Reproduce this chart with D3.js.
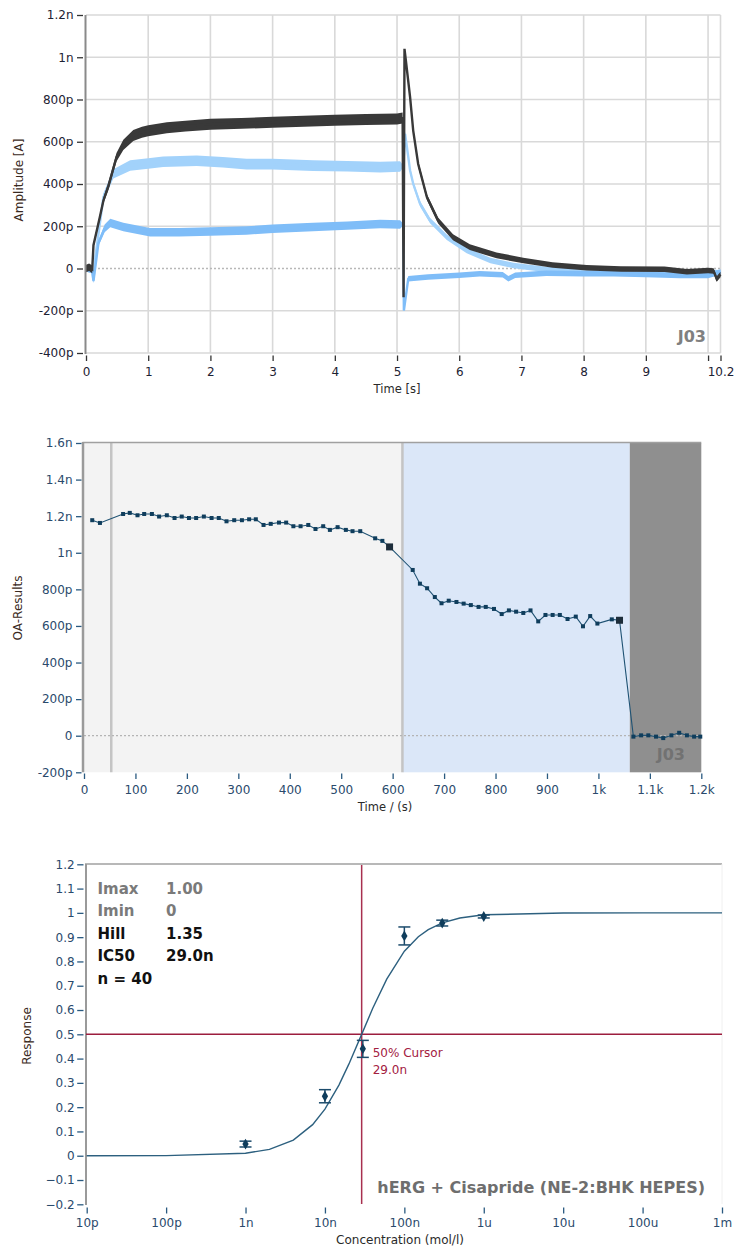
<!DOCTYPE html>
<html>
<head>
<meta charset="utf-8">
<script src="https://cdn.jsdelivr.net/npm/d3@7"></script>
<style>
body { margin: 0; background: #fff; }
text { font-family: "DejaVu Sans", sans-serif; }
</style>
</head>
<body>
<script>
//// ============================ DATA ============================ ////

// panel 1 : current traces (time in s, amplitude in pA, noise half-width in pA)
var blackT = [0, 0.05, 0.1, 0.12, 0.22, 0.28, 0.36, 0.49, 0.6, 0.76, 0.9, 1.0, 1.3, 1.6, 2.0, 2.5, 3.0, 3.5, 4.0, 4.5, 5.0, 5.09, 5.105, 5.12, 5.14, 5.21, 5.26, 5.34, 5.48, 5.66, 5.9, 6.17, 6.6, 7.03, 7.5, 8.05, 8.6, 9.3, 9.66, 10.0, 10.09, 10.14, 10.2];
var blackV = [0, 6, -4, 110, 240, 322, 390, 527, 585, 630, 645, 652, 666, 674, 683, 687, 692, 697, 702, 705, 708, 712, -136, 1040, 990, 811, 653, 495, 338, 227, 148, 101, 62, 38, 16, 3, -2, -4, -15, -10, -12, -50, -28];
var blackW = [18, 18, 18, 12, 12, 14, 18, 20, 24, 26, 26, 26, 26, 26, 26, 26, 26, 26, 26, 26, 26, 26, 2, 2, 14, 14, 14, 14, 14, 14, 14, 14, 14, 13, 13, 13, 13, 13, 13, 13, 13, 13, 13];

var blueHiT = [0, 0.1, 0.12, 0.15, 0.28, 0.44, 0.71, 1.0, 1.24, 1.78, 2.2, 2.58, 3.0, 3.65, 4.2, 4.73, 5.05, 5.10, 5.13, 5.21, 5.26, 5.37, 5.53, 5.8, 6.12, 6.5, 6.87, 7.4, 8.0, 9.0, 10.0, 10.2];
var blueHiV = [0, -10, -55, 53, 338, 448, 488, 497, 505, 510, 503, 494, 494, 487, 484, 480, 483, 483, 637, 464, 401, 306, 227, 148, 85, 38, 14, -5, -12, -15, -18, -20];
var blueHiW = [14, 14, 10, 12, 18, 22, 25, 25, 25, 25, 25, 25, 25, 25, 25, 25, 25, 4, 10, 13, 13, 13, 13, 13, 13, 13, 13, 13, 13, 13, 13, 13];

var blueLoT = [0, 0.1, 0.12, 0.2, 0.3, 0.39, 0.6, 1.03, 1.5, 2.0, 2.58, 3.0, 3.65, 4.2, 4.73, 5.05, 5.10, 5.11, 5.18, 5.5, 6.0, 6.33, 6.7, 6.79, 6.9, 7.4, 8.0, 8.48, 9.0, 9.55, 10.0, 10.2];
var blueLoV = [0, -10, -60, 120, 190, 215, 196, 172, 172, 175, 180, 188, 196, 203, 211, 208, 208, -199, -49, -40, -32, -25, -30, -49, -32, -22, -25, -25, -28, -33, -33, -17];
var blueLoW = [14, 14, 10, 14, 18, 20, 20, 20, 20, 20, 20, 20, 20, 20, 20, 20, 4, 4, 13, 13, 13, 13, 13, 13, 13, 13, 13, 13, 13, 13, 13, 13];

var ampTicks = [-400, -200, 0, 200, 400, 600, 800, 1000, 1200];
var ampTickLabels = ["-400p", "-200p", "0", "200p", "400p", "600p", "800p", "1n", "1.2n"];
var timeTicks = [0, 1, 2, 3, 4, 5, 6, 7, 8, 9, 10, 10.2];
var timeTickLabels = ["0", "1", "2", "3", "4", "5", "6", "7", "8", "9", "", "10.2"];

// panel 2 : OA results over the experiment (time in s, value in pA)
var oaTime = [16, 31, 76, 89, 104, 117, 132, 146, 161, 176, 190, 204, 218, 233, 248, 262, 277, 292, 307, 321, 334, 349, 363, 379, 393, 407, 421, 436, 450, 465, 478, 493, 509, 522, 537, 566, 580, 594, 639, 653, 667, 682, 695, 709, 724, 738, 752, 767, 781, 797, 812, 826, 840, 854, 868, 883, 897, 911, 925, 940, 956, 970, 984, 998, 1026, 1041, 1068, 1083, 1097, 1112, 1126, 1142, 1157, 1172, 1186, 1198];
var oaValue = [1178, 1163, 1212, 1218, 1205, 1212, 1212, 1198, 1205, 1190, 1198, 1190, 1190, 1198, 1190, 1190, 1172, 1178, 1178, 1183, 1183, 1152, 1158, 1165, 1165, 1145, 1145, 1152, 1130, 1145, 1125, 1140, 1125, 1118, 1118, 1079, 1065, 1032, 906, 831, 806, 758, 724, 738, 731, 722, 714, 704, 704, 693, 665, 685, 678, 671, 685, 625, 660, 660, 660, 638, 651, 598, 654, 613, 636, 631, -5, 2, 2, -5, -13, 2, 16, 2, -5, -5];
var oaSelected = [594, 1041];
var phaseStart = [0, 619, 1061];
var phaseEnd = [619, 1061, 1200];
var phaseMarks = [53, 619];

var oaTicks = [-200, 0, 200, 400, 600, 800, 1000, 1200, 1400, 1600];
var oaTickLabels = ["-200p", "0", "200p", "400p", "600p", "800p", "1n", "1.2n", "1.4n", "1.6n"];
var expTicks = [0, 100, 200, 300, 400, 500, 600, 700, 800, 900, 1000, 1100, 1200];
var expTickLabels = ["0", "100", "200", "300", "400", "500", "600", "700", "800", "900", "1k", "1.1k", "1.2k"];

// panel 3 : concentration response (mol/l)
var doseConc = [1e-9, 1e-8, 3e-8, 1e-7, 3e-7, 1e-6];
var doseResp = [0.048, 0.245, 0.44, 0.905, 0.958, 0.985];
var doseErr = [0.012, 0.027, 0.035, 0.037, 0.012, 0.006];

var fitConc = [1e-11, 1e-10, 1e-9, 2e-9, 4e-9, 7e-9, 1e-8, 1.5e-8, 2e-8, 3e-8, 4e-8, 6e-8, 1e-7, 1.5e-7, 2e-7, 3e-7, 5e-7, 1e-6, 1e-5, 1e-4, 1e-3];
var fitResp = [0, 0.0005, 0.0105, 0.026, 0.0645, 0.128, 0.192, 0.291, 0.377, 0.511, 0.607, 0.727, 0.842, 0.902, 0.931, 0.959, 0.979, 0.992, 0.9996, 1, 1];

var ic50 = 29.0e-9;
var statNames = ["Imax", "Imin", "Hill", "IC50", "n = 40"];
var statValues = ["1.00", "0", "1.35", "29.0n", ""];

var respTicks = [-0.2, -0.1, 0, 0.1, 0.2, 0.3, 0.4, 0.5, 0.6, 0.7, 0.8, 0.9, 1, 1.1, 1.2];
var concTicks = [1e-11, 1e-10, 1e-9, 1e-8, 1e-7, 1e-6, 1e-5, 1e-4, 1e-3];
var concTickLabels = ["10p", "100p", "1n", "10n", "100n", "1u", "10u", "100u", "1m"];

//// ============================ SETUP ============================ ////

var svg = d3.select("body").append("svg")
    .attr("width", 734)
    .attr("height", 1249);

function styleAxis(g, color, tickColor) {
    g.select(".domain").remove();
    g.selectAll(".tick line").attr("stroke", tickColor).attr("stroke-width", 1.3);
    g.selectAll(".tick text")
        .attr("fill", color)
        .style("font-size", "12px")
        .style("font-family", "'DejaVu Sans', sans-serif");
}

//// ============================ PANEL 1 ============================ ////

var x1 = d3.scaleLinear().domain([0, 10.2]).range([86, 720.5]);
var y1 = d3.scaleLinear().domain([-400, 1200]).range([353, 15]);
var p1 = svg.append("g");

p1.selectAll(".gridx")
    .data(timeTicks.slice(1))
    .enter().append("line")
    .attr("x1", function(d) { return x1(d); })
    .attr("x2", function(d) { return x1(d); })
    .attr("y1", y1(1200))
    .attr("y2", y1(-400))
    .attr("stroke", "#d9d9d9")
    .attr("stroke-width", 1.6);

p1.selectAll(".gridy")
    .data(ampTicks.filter(function(d) { return d != 0; }))
    .enter().append("line")
    .attr("x1", x1(0))
    .attr("x2", x1(10.2))
    .attr("y1", function(d) { return y1(d); })
    .attr("y2", function(d) { return y1(d); })
    .attr("stroke", "#d9d9d9")
    .attr("stroke-width", 1.6);

p1.append("line")
    .attr("x1", x1(0)).attr("x2", x1(10.2))
    .attr("y1", y1(0)).attr("y2", y1(0))
    .attr("stroke", "#b8b8b8")
    .attr("stroke-width", 1.3)
    .attr("stroke-dasharray", "2,2");

function drawTrace(T, V, W, color) {
    var pts = T.map(function(t, i) { return { t: t, v: V[i], w: W[i] }; });
    var band = d3.area()
        .x(function(d) { return x1(d.t); })
        .y0(function(d) { return y1(d.v - d.w); })
        .y1(function(d) { return y1(d.v + d.w); });
    var line = d3.line()
        .x(function(d) { return x1(d.t); })
        .y(function(d) { return y1(d.v); });
    p1.append("path").datum(pts).attr("d", band).attr("fill", color);
    p1.append("path").datum(pts).attr("d", line)
        .attr("fill", "none").attr("stroke", color).attr("stroke-width", 2.4);
}

drawTrace(blueHiT, blueHiV, blueHiW, "#a2d2fb");
drawTrace(blueLoT, blueLoV, blueLoW, "#7fbdf8");
drawTrace(blackT, blackV, blackW, "#393939");

p1.append("line")
    .attr("x1", 85.5).attr("x2", 85.5)
    .attr("y1", y1(1200)).attr("y2", y1(-400) + 1)
    .attr("stroke", "#8a8a8a")
    .attr("stroke-width", 2);

p1.append("g")
    .attr("transform", "translate(83,0)")
    .call(d3.axisLeft(y1).tickValues(ampTicks)
        .tickFormat(function(d, i) { return ampTickLabels[i]; })
        .tickSize(6).tickPadding(3.5))
    .call(function(g) { styleAxis(g, "#1d2233", "#333"); });

p1.append("g")
    .attr("transform", "translate(0,355.5)")
    .call(d3.axisBottom(x1).tickValues(timeTicks)
        .tickFormat(function(d, i) { return timeTickLabels[i]; })
        .tickSize(5.5).tickPadding(6.5))
    .call(function(g) { styleAxis(g, "#1d2233", "#333"); });

p1.append("text")
    .attr("transform", "translate(19,180) rotate(-90)")
    .attr("text-anchor", "middle")
    .attr("dominant-baseline", "middle")
    .style("font-size", "12px")
    .attr("fill", "#3a2a22")
    .text("Amplitude [A]");

p1.append("text")
    .attr("x", 397).attr("y", 393)
    .attr("text-anchor", "middle")
    .style("font-size", "11.5px")
    .attr("fill", "#2a2a2a")
    .text("Time [s]");

p1.append("text")
    .attr("x", 706).attr("y", 342)
    .attr("text-anchor", "end")
    .style("font-size", "16px")
    .style("font-weight", "bold")
    .attr("fill", "#808080")
    .text("J03");

//// ============================ PANEL 2 ============================ ////

var x2 = d3.scaleLinear().domain([0, 1200]).range([84, 701.3]);
var y2 = d3.scaleLinear().domain([-200, 1600]).range([772.3, 443]);
var p2 = svg.append("g");
var phaseColors = ["#f3f3f3", "#dbe7f8", "#8f8f8f"];

p2.selectAll(".phase")
    .data(phaseStart)
    .enter().append("rect")
    .attr("x", function(d) { return x2(d); })
    .attr("width", function(d, i) { return x2(phaseEnd[i]) - x2(d); })
    .attr("y", y2(1600))
    .attr("height", y2(-200) - y2(1600))
    .attr("fill", function(d, i) { return phaseColors[i]; });

p2.selectAll(".mark")
    .data(phaseMarks)
    .enter().append("line")
    .attr("x1", function(d) { return x2(d); })
    .attr("x2", function(d) { return x2(d); })
    .attr("y1", y2(1600))
    .attr("y2", y2(-200))
    .attr("stroke", "#c4c4c4")
    .attr("stroke-width", 2.5);

p2.append("line")
    .attr("x1", x2(0)).attr("x2", x2(1200))
    .attr("y1", y2(0)).attr("y2", y2(0))
    .attr("stroke", "#b4b4b4")
    .attr("stroke-width", 1.3)
    .attr("stroke-dasharray", "2,2");

p2.append("line")
    .attr("x1", 82.5).attr("x2", x2(1200))
    .attr("y1", 442.5).attr("y2", 442.5)
    .attr("stroke", "#a0a0a0").attr("stroke-width", 1.5);

p2.append("line")
    .attr("x1", 83).attr("x2", 83)
    .attr("y1", 442).attr("y2", y2(-200))
    .attr("stroke", "#9a9a9a").attr("stroke-width", 2.5);

var oaPts = oaTime.map(function(t, i) { return { t: t, v: oaValue[i] }; });

p2.append("path")
    .datum(oaPts)
    .attr("d", d3.line()
        .x(function(d) { return x2(d.t); })
        .y(function(d) { return y2(d.v); }))
    .attr("fill", "none")
    .attr("stroke", "#1f5273")
    .attr("stroke-width", 1.1);

p2.selectAll(".pt")
    .data(oaPts)
    .enter().append("rect")
    .attr("x", function(d) { return x2(d.t) - 2; })
    .attr("y", function(d) { return y2(d.v) - 2; })
    .attr("width", 4)
    .attr("height", 4)
    .attr("fill", "#0f3d5c");

p2.selectAll(".sel")
    .data(oaPts.filter(function(d) { return oaSelected.indexOf(d.t) >= 0; }))
    .enter().append("rect")
    .attr("x", function(d) { return x2(d.t) - 3.5; })
    .attr("y", function(d) { return y2(d.v) - 3.5; })
    .attr("width", 7)
    .attr("height", 7)
    .attr("fill", "#1d2d3a");

p2.append("text")
    .attr("x", 685).attr("y", 760)
    .attr("text-anchor", "end")
    .style("font-size", "16px")
    .style("font-weight", "bold")
    .attr("fill", "#727272")
    .text("J03");

p2.append("g")
    .attr("transform", "translate(81.5,0)")
    .call(d3.axisLeft(y2).tickValues(oaTicks)
        .tickFormat(function(d, i) { return oaTickLabels[i]; })
        .tickSize(5.5).tickPadding(3.5))
    .call(function(g) { styleAxis(g, "#2a4a6c", "#2a5a80"); });

p2.append("g")
    .attr("transform", "translate(0,773.5)")
    .call(d3.axisBottom(x2).tickValues(expTicks)
        .tickFormat(function(d, i) { return expTickLabels[i]; })
        .tickSize(5.5).tickPadding(6))
    .call(function(g) { styleAxis(g, "#2a4a6c", "#2a5a80"); });

p2.append("text")
    .attr("transform", "translate(18,608) rotate(-90)")
    .attr("text-anchor", "middle")
    .attr("dominant-baseline", "middle")
    .style("font-size", "12px")
    .attr("fill", "#3a2a22")
    .text("OA-Results");

p2.append("text")
    .attr("x", 385).attr("y", 811)
    .attr("text-anchor", "middle")
    .style("font-size", "11.5px")
    .attr("fill", "#2a2a2a")
    .text("Time / (s)");

//// ============================ PANEL 3 ============================ ////

var x3 = d3.scaleLog().domain([1e-11, 1e-3]).range([86.7, 722]);
var y3 = d3.scaleLinear().domain([-0.2, 1.2]).range([1204.3, 864.3]);
var p3 = svg.append("g");

p3.append("line")
    .attr("x1", 85).attr("x2", 722)
    .attr("y1", 864).attr("y2", 864)
    .attr("stroke", "#a0a0a0").attr("stroke-width", 1.5);

p3.append("line")
    .attr("x1", 722).attr("x2", 722)
    .attr("y1", 864).attr("y2", 1204)
    .attr("stroke", "#f0f0f0").attr("stroke-width", 1);

p3.append("line")
    .attr("x1", 86).attr("x2", 86)
    .attr("y1", 864).attr("y2", 1205)
    .attr("stroke", "#9a9a9a").attr("stroke-width", 2);

// cursor
p3.append("line")
    .attr("x1", 86).attr("x2", 722)
    .attr("y1", y3(0.5)).attr("y2", y3(0.5))
    .attr("stroke", "#9c1d3e").attr("stroke-width", 1.5);

p3.append("line")
    .attr("x1", x3(ic50)).attr("x2", x3(ic50))
    .attr("y1", 865).attr("y2", 1204)
    .attr("stroke", "#a8304f").attr("stroke-width", 1.5);

var fitPts = fitConc.map(function(c, i) { return { c: c, r: fitResp[i] }; });

p3.append("path")
    .datum(fitPts)
    .attr("d", d3.line()
        .x(function(d) { return x3(d.c); })
        .y(function(d) { return y3(d.r); }))
    .attr("fill", "none")
    .attr("stroke", "#2d607f")
    .attr("stroke-width", 1.4);

var dosePts = doseConc.map(function(c, i) { return { c: c, r: doseResp[i], e: doseErr[i] }; });

var bars = p3.selectAll(".err")
    .data(dosePts)
    .enter().append("g")
    .attr("stroke", "#1c4b6c")
    .attr("stroke-width", 1.5);

bars.append("line")
    .attr("x1", function(d) { return x3(d.c); })
    .attr("x2", function(d) { return x3(d.c); })
    .attr("y1", function(d) { return y3(d.r + d.e); })
    .attr("y2", function(d) { return y3(d.r - d.e); });

[1, -1].forEach(function(s) {
    bars.append("line")
        .attr("x1", function(d) { return x3(d.c) - 6; })
        .attr("x2", function(d) { return x3(d.c) + 6; })
        .attr("y1", function(d) { return y3(d.r + s * d.e); })
        .attr("y2", function(d) { return y3(d.r + s * d.e); });
});

p3.selectAll(".dia")
    .data(dosePts)
    .enter().append("path")
    .attr("d", d3.symbol().type(d3.symbolDiamond).size(34))
    .attr("transform", function(d) { return "translate(" + x3(d.c) + "," + y3(d.r) + ")"; })
    .attr("fill", "#0f3d5c");

p3.append("text")
    .attr("x", x3(ic50) + 11).attr("y", 1057)
    .style("font-size", "12px")
    .attr("fill", "#a3203f")
    .text("50% Cursor");

p3.append("text")
    .attr("x", x3(ic50) + 11).attr("y", 1073.5)
    .style("font-size", "12px")
    .attr("fill", "#a3203f")
    .text("29.0n");

p3.selectAll(".sname")
    .data(statNames)
    .enter().append("text")
    .attr("x", 97.5)
    .attr("y", function(d, i) { return 893.5 + i * 22.5; })
    .style("font-size", "15px")
    .style("font-weight", "bold")
    .attr("fill", function(d, i) { return i < 2 ? "#7a7a7a" : "#111"; })
    .text(function(d) { return d; });

p3.selectAll(".sval")
    .data(statValues)
    .enter().append("text")
    .attr("x", 166)
    .attr("y", function(d, i) { return 893.5 + i * 22.5; })
    .style("font-size", "15px")
    .style("font-weight", "bold")
    .attr("fill", function(d, i) { return i < 2 ? "#7a7a7a" : "#111"; })
    .text(function(d) { return d; });

p3.append("text")
    .attr("x", 705).attr("y", 1193)
    .attr("text-anchor", "end")
    .style("font-size", "16px")
    .style("font-weight", "bold")
    .attr("fill", "#6e6e6e")
    .text("hERG + Cisapride (NE-2:BHK HEPES)");

p3.append("g")
    .attr("transform", "translate(83.5,0)")
    .call(d3.axisLeft(y3).tickValues(respTicks)
        .tickFormat(function(d) { return d3.format("")(+d.toFixed(1)); })
        .tickSize(6.3).tickPadding(2.5))
    .call(function(g) { styleAxis(g, "#2a4a6c", "#2a5a80"); });

p3.append("g")
    .attr("transform", "translate(0,1207.5)")
    .call(d3.axisBottom(x3).tickValues(concTicks)
        .tickFormat(function(d, i) { return concTickLabels[i]; })
        .tickSize(6).tickPadding(5))
    .call(function(g) { styleAxis(g, "#2a4a6c", "#2a5a80"); });

p3.append("text")
    .attr("transform", "translate(27.5,1036) rotate(-90)")
    .attr("text-anchor", "middle")
    .attr("dominant-baseline", "middle")
    .style("font-size", "12px")
    .attr("fill", "#3a2a22")
    .text("Response");

p3.append("text")
    .attr("x", 400).attr("y", 1244)
    .attr("text-anchor", "middle")
    .style("font-size", "12px")
    .attr("fill", "#2a2a2a")
    .text("Concentration (mol/l)");
</script>
</body>
</html>
